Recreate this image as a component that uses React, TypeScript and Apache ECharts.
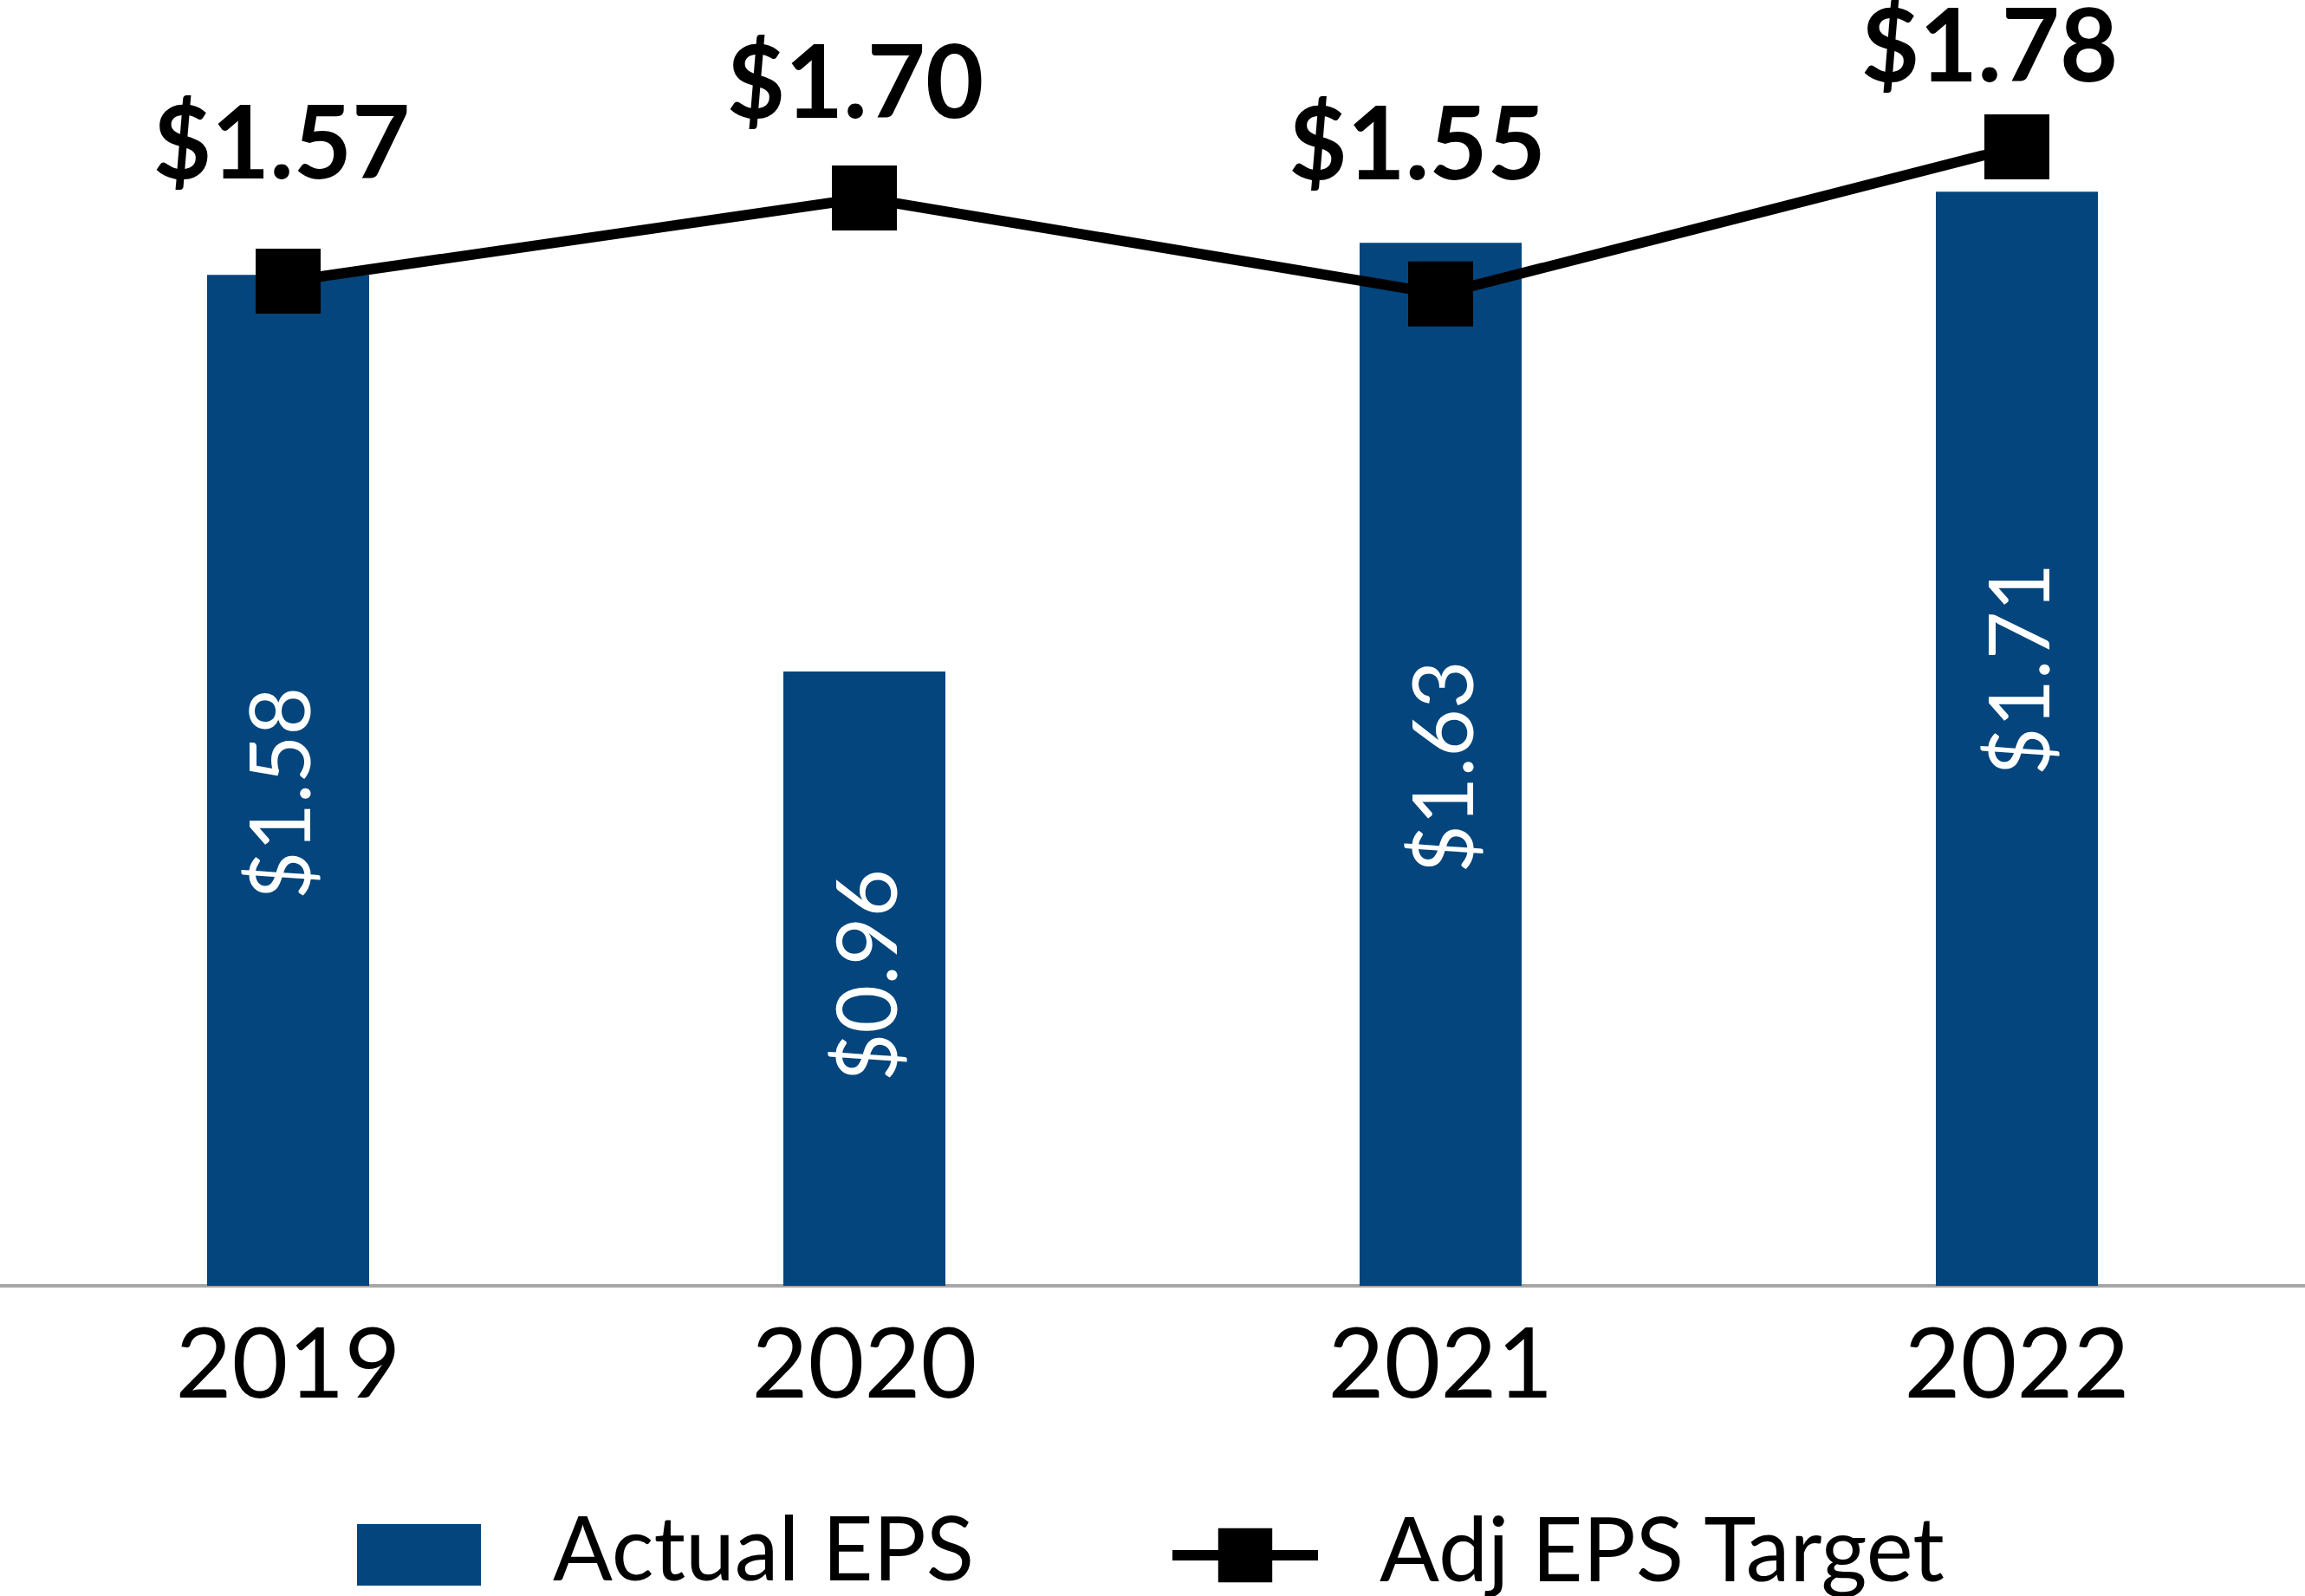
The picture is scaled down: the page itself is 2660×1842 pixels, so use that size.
import React, { useEffect, useRef } from "react";
import * as echarts from "echarts";

const years = ["2019", "2020", "2021", "2022"];
const actualEps = [1.58, 0.96, 1.63, 1.71];
const adjEpsTarget = [1.57, 1.7, 1.55, 1.78];

// label placement styling (offsets in px), kept separate from values
const targetLabelOffsets = [
  [-7.5, -75.5],
  [-10.5, -49.5],
  [-27, -89],
  [-31.5, -32.5],
];
// offsets in the rotated label's own frame: [along text, across text]
const actualLabelOffsets = [
  [-15, -12],
  [4, 0],
  [-3, 0],
  [80, 0],
];

const BAR_COLOR = "#03457c";
const FONT = "Lato";

const legendRich = {
  t: {
    fontFamily: FONT,
    fontSize: 102,
    lineHeight: 102,
    color: "#000000",
    padding: [0, 0, 20, 0],
  },
};

export default function App() {
  const ref = useRef<HTMLDivElement>(null);

  useEffect(() => {
    if (!ref.current) return;
    const chart = echarts.init(ref.current, undefined, { renderer: "svg" });
    const money = (v: number) => "$" + v.toFixed(2);

    chart.setOption({
      animation: false,
      backgroundColor: "#ffffff",
      grid: { left: 0, right: 0, top: 7, bottom: 358, containLabel: false },
      xAxis: {
        type: "category",
        data: years,
        boundaryGap: true,
        axisLine: { show: true, lineStyle: { color: "#a6a6a6", width: 4 } },
        axisTick: { show: false },
        axisLabel: {
          color: "#000000",
          fontFamily: FONT,
          fontSize: 112,
          lineHeight: 112,
          margin: 29,
        },
      },
      yAxis: {
        type: "value",
        min: 0,
        max: 2,
        show: false,
        splitLine: { show: false },
      },
      legend: [
        {
          data: ["Actual EPS"],
          left: 412,
          top: 1733.5,
          padding: 0,
          itemWidth: 143,
          itemHeight: 71,
          itemGap: 0,
          icon: "rect",
          formatter: (name: string) => "{t|" + name + "}",
          textStyle: {
            fontFamily: FONT,
            fontSize: 102,
            color: "#000000",
            padding: [0, 0, 0, 78],
            rich: legendRich,
          },
        },
        {
          data: ["Adj EPS Target"],
          left: 1347,
          top: 1734,
          padding: 0,
          itemWidth: 168,
          itemHeight: 78,
          itemGap: 0,
          lineStyle: { width: 12, color: "#000000" },
          formatter: (name: string) => "{t|" + name + "}",
          textStyle: {
            fontFamily: FONT,
            fontSize: 102,
            color: "#000000",
            padding: [0, 0, 0, 66],
            rich: legendRich,
          },
        },
      ],
      series: [
        {
          name: "Actual EPS",
          type: "bar",
          barWidth: 187,
          itemStyle: { color: BAR_COLOR },
          data: actualEps.map((v, i) => ({
            value: v,
            label: { offset: actualLabelOffsets[i] },
          })),
          label: {
            show: true,
            position: "inside",
            rotate: 90,
            color: "#ffffff",
            fontFamily: FONT,
            fontSize: 96,
            lineHeight: 96,
            formatter: (p: any) => money(p.value),
          },
          z: 1,
        },
        {
          name: "Adj EPS Target",
          type: "line",
          symbol: "rect",
          symbolSize: 75,
          lineStyle: { color: "#000000", width: 12 },
          itemStyle: { color: "#000000" },
          data: adjEpsTarget.map((v, i) => ({
            value: v,
            label: { offset: targetLabelOffsets[i] },
          })),
          label: {
            show: true,
            position: "top",
            distance: 0,
            color: "#000000",
            fontFamily: FONT,
            fontWeight: "bold",
            fontSize: 116,
            lineHeight: 100,
            formatter: (p: any) => money(p.value),
          },
          z: 3,
        },
      ],
    });

    return () => chart.dispose();
  }, []);

  return (
    <div
      ref={ref}
      style={{
        position: "absolute",
        left: 0,
        top: 0,
        width: 2660,
        height: 1842,
        background: "#ffffff",
      }}
    />
  );
}
